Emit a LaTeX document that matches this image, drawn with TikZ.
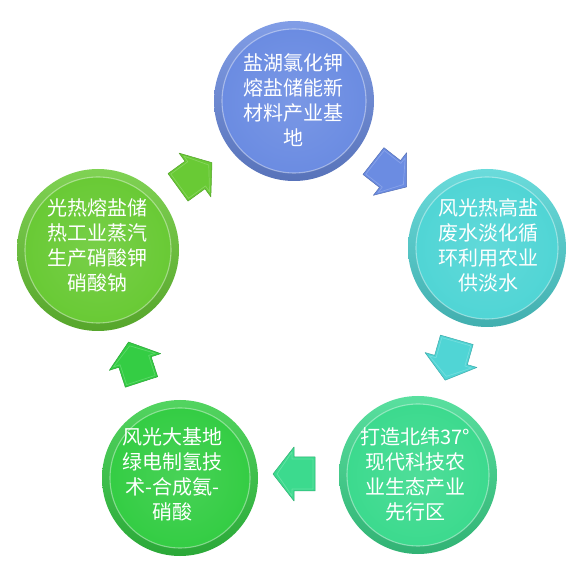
\documentclass[tikz,border=0pt]{standalone}
\usepackage{fontspec}
\newfontfamily\cjk{Noto Sans CJK SC}
\definecolor{cBlue}{HTML}{6B8CE2}
\definecolor{cCyan}{HTML}{50D5D5}
\definecolor{cTeal}{HTML}{3CDA8E}
\definecolor{cGreen}{HTML}{34CD44}
\definecolor{cLime}{HTML}{69CA35}
\newcommand\bubble[5]{%
  \shade[top color=#5!85!white, bottom color=#5!82!black] (#2,#3) circle[radius=#4pt];
  \shade[inner color=#5!90!white, outer color=#5] (#2,#3) circle[radius={#4pt-8pt}];
  \draw[white, opacity=0.4, line width=1.1pt] (#2,#3) circle[radius={#4pt-8pt}];
  \node[circle, minimum size={2*#4pt}, inner sep=0pt] (#1) at (#2,#3) {};
}
\newcommand\blkarrow[4]{%
  \begin{scope}[shift={(#1,#2)}, rotate=#3]
    \filldraw[fill=#4, draw=#4!80!black, line width=0.5pt, line join=round]
      (-21,-17) -- (0,-17) -- (0,-27) -- (21,0) -- (0,27) -- (0,17) -- (-21,17) -- cycle;
    \draw[white, opacity=0.2, line width=0.7pt, line join=round]
      (-19,-15) -- (2,-15) -- (2,-22) -- (17,0) -- (2,22) -- (2,15) -- (-19,15) -- cycle;
  \end{scope}}
\tikzset{txt/.style={text=white, align=center, inner sep=0pt,
  font=\cjk\fontsize{20}{25}\selectfont}}
\begin{document}
\begin{tikzpicture}[x=1pt, y=1pt]
  \fill[white] (0,0) rectangle (574,566);
  \useasboundingbox (0,0) rectangle (574,566);
  % circles
  \bubble{c1}{294}{465}{80}{cBlue}
  \bubble{c2}{487}{318}{79}{cCyan}
  \bubble{c3}{418}{91}{79}{cTeal}
  \bubble{c4}{180}{88}{78}{cGreen}
  \bubble{c5}{98}{316}{81}{cLime}
  % texts
  \node[txt] (t1) at (293,466) {盐湖氯化钾\\熔盐储能新\\材料产业基\\地};
  \node[txt] (t2) at (488,321) {风光热高盐\\废水淡化循\\环利用农业\\供淡水};
  \node[txt] (t3) at (415,92) {打造北纬37°\\现代科技农\\业生态产业\\先行区};
  \node[txt] (t4) at (172,92) {风光大基地\\绿电制氢技\\术-合成氨-\\硝酸};
  \node[txt] (t5) at (98,321) {光热熔盐储\\热工业蒸汽\\生产硝酸钾\\硝酸钠};
  % arrows
  \blkarrow{195}{391}{36}{cLime}
  \blkarrow{390}{392}{-38}{cBlue}
  \blkarrow{451}{206}{-106}{cCyan}
  \blkarrow{294}{92}{180}{cTeal}
  \blkarrow{135}{204}{108}{cGreen}
\end{tikzpicture}
\end{document}
